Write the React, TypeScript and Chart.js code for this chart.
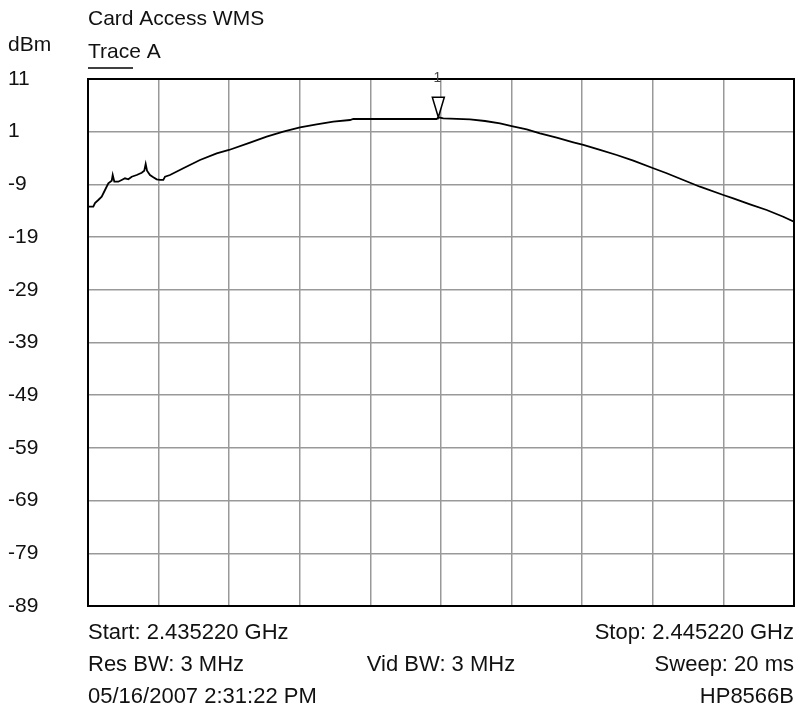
import React, { useEffect, useRef } from "react";
import { Chart, registerables } from "chart.js";

Chart.register(...registerables);

// ---- data ----
const START_GHZ = 2.43522;
const STOP_GHZ = 2.44522;
const X_GRID_GHZ = [
  2.43522, 2.43622, 2.43722, 2.43822, 2.43922, 2.44022, 2.44122, 2.44222, 2.44322, 2.44422, 2.44522,
];
const Y_MIN = -89;
const Y_MAX = 11;
const Y_TICKS = [11, 1, -9, -19, -29, -39, -49, -59, -69, -79, -89];

const FREQ_GHZ = [
  2.43522, 2.435295, 2.435319, 2.435366, 2.435414, 2.435461, 2.435508, 2.435556, 2.43557,
  2.435593, 2.435649, 2.435697, 2.435744, 2.435791, 2.435839, 2.43591, 2.435981, 2.436017,
  2.436037, 2.436056, 2.436098, 2.436145, 2.436193, 2.43624, 2.436287, 2.436311, 2.436381,
  2.43657, 2.436806, 2.437043, 2.437217, 2.437515, 2.437751, 2.437986, 2.438223, 2.438459,
  2.438695, 2.438931, 2.438978, 2.440159, 2.440182, 2.440253, 2.440631, 2.440843, 2.441056,
  2.441221, 2.441434, 2.441622, 2.441859, 2.442094, 2.442236, 2.442472, 2.442709, 2.442944,
  2.443227, 2.443417, 2.443652, 2.443888, 2.444219, 2.44436, 2.444597, 2.444833, 2.445068,
  2.44522,
];
const LEVEL_DBM = [
  -13.23, -13.23, -12.53, -11.96, -11.33, -10.06, -8.79, -8.3, -7.22,
  -8.49, -8.49, -8.16, -7.84, -8.03, -7.54, -7.22, -6.78, -6.4,
  -5.13, -6.4, -7.22, -7.65, -8.03, -8.16, -8.16, -7.54, -7.22,
  -5.94, -4.37, -3.1, -2.47, -1.09, 0.05, 1.0, 1.83, 2.4,
  2.9, 3.22, 3.41, 3.41, 3.73, 3.54, 3.35, 3.03, 2.59,
  2.08, 1.46, 0.7, -0.14, -1.01, -1.52, -2.47, -3.42, -4.5,
  -5.94, -6.89, -8.16, -9.44, -11.01, -11.64, -12.78, -13.86, -15.13,
  -16.08,
];

const MARKER_FREQ_GHZ = 2.440182;
const MARKER_LEVEL_DBM = 3.73;
const MARKER_LABEL = "1";

const TITLE = "Card Access WMS";
const Y_UNIT = "dBm";
const TRACE_LABEL = "Trace A";
const FOOTER_LEFT = ["Start: 2.435220 GHz", "Res BW: 3 MHz", "05/16/2007 2:31:22 PM"];
const FOOTER_CENTER = ["", "Vid BW: 3 MHz", ""];
const FOOTER_RIGHT = ["Stop: 2.445220 GHz", "Sweep: 20 ms", "HP8566B"];

const FONT_FAMILY = '"Liberation Sans", Arial, Helvetica, sans-serif';
const FONT_SIZE = 21;
const FOOTER_FONT_SIZE = 22;
const TEXT_COLOR = "#111";
const GRID_COLOR = "#999999";

const overlayPlugin = {
  id: "overlay",
  afterDraw(chart: any) {
    const { ctx, chartArea: a, scales } = chart;
    ctx.save();
    // frame
    ctx.strokeStyle = "#000";
    ctx.lineWidth = 2;
    ctx.strokeRect(a.left, a.top, a.right - a.left, a.bottom - a.top);

    // marker
    const mx = scales.x.getPixelForValue(MARKER_FREQ_GHZ);
    const my = scales.y.getPixelForValue(MARKER_LEVEL_DBM);
    ctx.beginPath();
    ctx.moveTo(mx, my);
    ctx.lineTo(mx - 6, my - 20);
    ctx.lineTo(mx + 6, my - 20);
    ctx.closePath();
    ctx.fillStyle = "#fff";
    ctx.fill();
    ctx.lineWidth = 1.5;
    ctx.strokeStyle = "#000";
    ctx.stroke();
    ctx.font = `14px ${FONT_FAMILY}`;
    ctx.fillStyle = "#444";
    ctx.textAlign = "center";
    ctx.textBaseline = "middle";
    ctx.fillText(MARKER_LABEL, mx - 1, a.top - 1);

    // header
    ctx.font = `${FONT_SIZE}px ${FONT_FAMILY}`;
    ctx.fillStyle = TEXT_COLOR;
    ctx.textAlign = "left";
    ctx.fillText(TITLE, a.left, 19);
    ctx.fillText(Y_UNIT, 8, 45);
    ctx.fillText(TRACE_LABEL, a.left, 52);
    ctx.beginPath();
    ctx.moveTo(a.left, 68);
    ctx.lineTo(a.left + 45, 68);
    ctx.lineWidth = 1.5;
    ctx.strokeStyle = "#000";
    ctx.stroke();

    // footer
    ctx.font = `${FOOTER_FONT_SIZE}px ${FONT_FAMILY}`;
    const rows = [a.bottom + 27, a.bottom + 59, a.bottom + 91];
    rows.forEach((y, i) => {
      ctx.textAlign = "left";
      ctx.fillText(FOOTER_LEFT[i], a.left, y);
      ctx.textAlign = "center";
      ctx.fillText(FOOTER_CENTER[i], (a.left + a.right) / 2, y);
      ctx.textAlign = "right";
      ctx.fillText(FOOTER_RIGHT[i], a.right, y);
    });
    ctx.restore();
  },
};

export default function App() {
  const ref = useRef<HTMLCanvasElement>(null);
  useEffect(() => {
    if (!ref.current) return;
    Chart.defaults.font.family = FONT_FAMILY;
    const chart = new Chart(ref.current, {
      type: "line",
      data: {
        datasets: [
          {
            label: TRACE_LABEL,
            data: FREQ_GHZ.map((f, i) => ({ x: f, y: LEVEL_DBM[i] })),
            borderColor: "#000",
            borderWidth: 1.8,
            pointRadius: 0,
            tension: 0,
            fill: false,
          },
        ],
      },
      options: {
        animation: false,
        responsive: true,
        maintainAspectRatio: false,
        layout: { padding: { left: 8, top: 79, right: 7, bottom: 105 } },
        plugins: { legend: { display: false }, tooltip: { enabled: false }, title: { display: false } },
        scales: {
          x: {
            type: "linear",
            min: START_GHZ,
            max: STOP_GHZ,
            afterBuildTicks: (scale: any) => {
              scale.ticks = X_GRID_GHZ.map((v) => ({ value: v }));
            },
            afterFit: (scale: any) => {
              scale.height = 0;
            },
            ticks: { display: false },
            grid: { color: GRID_COLOR, lineWidth: 1.5, drawTicks: false },
            border: { color: "#000", width: 2 },
          },
          y: {
            type: "linear",
            min: Y_MIN,
            max: Y_MAX,
            afterBuildTicks: (scale: any) => {
              scale.ticks = Y_TICKS.map((v) => ({ value: v }));
            },
            afterFit: (scale: any) => {
              scale.width = 80;
            },
            ticks: {
              crossAlign: "far",
              padding: 0,
              color: TEXT_COLOR,
              font: { size: FONT_SIZE, family: FONT_FAMILY },
              callback: (v: any) => String(v),
            },
            grid: { color: GRID_COLOR, lineWidth: 1.5, drawTicks: false },
            border: { color: "#000", width: 2 },
          },
        },
      },
      plugins: [overlayPlugin],
    });
    return () => chart.destroy();
  }, []);
  return (
    <div style={{ position: "fixed", left: 0, top: 0, width: 801, height: 711, background: "#fff" }}>
      <canvas ref={ref} />
    </div>
  );
}
